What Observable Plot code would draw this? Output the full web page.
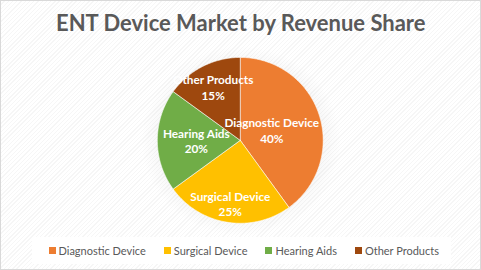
<!DOCTYPE html>
<html><head><meta charset="utf-8">
<script src="https://cdn.jsdelivr.net/npm/d3@7"></script>
<script src="https://cdn.jsdelivr.net/npm/@observablehq/plot@0.6"></script>
<style>
html,body{margin:0;padding:0;background:#fff;}
#chart{position:relative;width:481px;height:270px;box-sizing:border-box;border:1.5px solid #d9d9d9;
 background:repeating-linear-gradient(135deg,#ffffff 0px,#ffffff 2px,#f6f6f6 2px,#f6f6f6 3px);overflow:hidden;}
#glow{position:absolute;left:140px;top:45px;width:200px;height:190px;border-radius:50%;
 background:radial-gradient(closest-side, rgba(0,0,0,0.06), rgba(0,0,0,0.03) 80%, rgba(0,0,0,0));}
#plotwrap{position:absolute;left:-1.5px;top:-1.5px;}
#legbox{position:absolute;left:31px;top:236px;width:419px;height:27px;background:#fff;}
#leg{position:absolute;left:47.5px;top:243px;width:440px;}
.lg-swatches{font-family:Lato,sans-serif;font-size:11px;color:#595959;display:flex;flex-wrap:nowrap !important;margin:0 !important;min-height:0 !important;}
.lg-swatch{display:inline-flex;align-items:center;margin-right:18px !important;white-space:nowrap;}
.lg-swatch svg{margin-right:3px !important;}
</style></head>
<body>
<div id="chart"><div id="glow"></div><div id="legbox"></div><div id="plotwrap"></div><div id="leg"></div></div>
<script>
const categories = ["Diagnostic Device", "Surgical Device", "Hearing Aids", "Other Products"];
const shares = [40, 25, 20, 15];
const colors = ["#ED7D31", "#FFC000", "#70AD47", "#9E480E"];
const titleText = "ENT Device Market by Revenue Share";

// layout config (label distance from centre, as fraction of radius)
const labelRadius = [0.40, 0.77, 0.53, 0.72];

const data = categories.map((c, i) => ({category: c, value: shares[i]}));
const arcs = d3.pie().sort(null).value(d => d.value)(data);

const slicePts = [];
arcs.forEach(a => {
  slicePts.push({category: a.data.category, x: 0, y: 0});
  const n = Math.max(2, Math.ceil((a.endAngle - a.startAngle) / 0.02));
  for (let k = 0; k <= n; k++) {
    const t = a.startAngle + (a.endAngle - a.startAngle) * k / n;
    slicePts.push({category: a.data.category, x: Math.sin(t), y: Math.cos(t)});
  }
  slicePts.push({category: a.data.category, x: 0, y: 0});
});

const labels = arcs.map((a, i) => {
  const m = (a.startAngle + a.endAngle) / 2;
  return {category: a.data.category, text: `${a.data.category}\n${a.data.value}%`,
          x: labelRadius[i] * Math.sin(m), y: labelRadius[i] * Math.cos(m)};
});

const plot = Plot.plot({
  width: 481, height: 270,
  margin: 0,
  style: {background: "transparent", overflow: "visible"},
  x: {domain: [-1, 1], range: [157, 323], axis: null},
  y: {domain: [-1, 1], range: [223, 57], axis: null},
  color: {domain: categories, range: colors},
  marks: [
    Plot.line(slicePts, {x: "x", y: "y", z: "category", fill: "category", stroke: "white", strokeWidth: 1, strokeOpacity: 0.55, curve: "linear"}),
    Plot.text(labels, {x: "x", y: "y", text: "text", fill: "white", fontWeight: "bold", fontSize: 11.8, fontFamily: "Lato, sans-serif", lineHeight: 1.3}),
    Plot.text([titleText], {text: d => d, frameAnchor: "top", dy: 15, fontSize: 22, fontWeight: "bold", fill: "#595959", fontFamily: "Lato, sans-serif", textAnchor: "middle", lineAnchor: "top"})
  ]
});
document.getElementById("plotwrap").appendChild(plot);

const leg = plot.legend("color", {legend: "swatches", swatchSize: 7, className: "lg"});
document.getElementById("leg").appendChild(leg);
</script>
</body></html>
